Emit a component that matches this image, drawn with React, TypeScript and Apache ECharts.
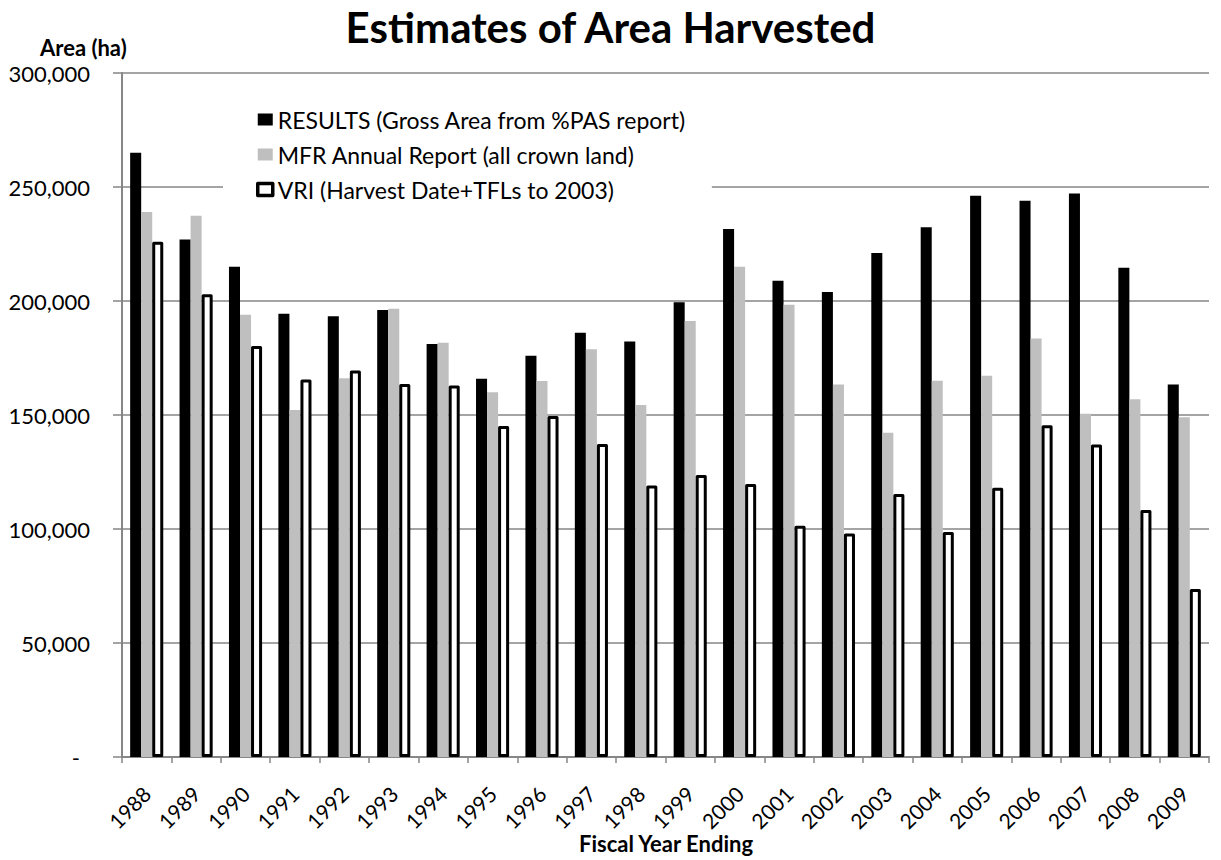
import React, { useEffect, useRef } from "react";
import * as echarts from "echarts";

const years = ["1988", "1989", "1990", "1991", "1992", "1993", "1994", "1995", "1996", "1997", "1998", "1999", "2000", "2001", "2002", "2003", "2004", "2005", "2006", "2007", "2008", "2009"];
const results = [265000, 227000, 215000, 194400, 193300, 196000, 181100, 165900, 176000, 186100, 182200, 199400, 231600, 208900, 204000, 221000, 232300, 246200, 244000, 247200, 214600, 163400];
const mfr = [239000, 237400, 194000, 152200, 166100, 196600, 181700, 160000, 164900, 178800, 154400, 191200, 215000, 198400, 163400, 142200, 165000, 167200, 183500, 150500, 156900, 149000];
const vri = [226000, 203000, 180300, 165600, 169500, 163600, 162900, 145200, 149600, 137300, 119100, 123700, 119700, 101400, 98000, 115400, 98700, 118100, 145500, 137100, 108300, 73700];
const seriesNames = ["RESULTS (Gross Area from %PAS report)", "MFR Annual Report (all crown land)", "VRI (Harvest Date+TFLs to 2003)"];
const xAxisTitle = "Fiscal Year Ending";

const FONT = "Lato, 'Open Sans', sans-serif";

export default function App() {
  const ref = useRef<HTMLDivElement>(null);
  useEffect(() => {
    if (!ref.current) return;
    const chart = echarts.init(ref.current, undefined, { renderer: "svg" });
    chart.setOption({
      animation: false,
      backgroundColor: "#fff",
      textStyle: { fontFamily: FONT, color: "#000" },
      title: [
        {
          text: "Estimates of Area Harvested",
          left: "center",
          top: 1,
          textStyle: { fontFamily: FONT, fontSize: 42, fontWeight: "bold", color: "#000" },
        },
        {
          text: "Area (ha)",
          left: 35,
          top: 31,
          textStyle: { fontFamily: FONT, fontSize: 22, fontWeight: "bold", color: "#000" },
        },
      ],
      graphic: [
        {
          type: "text",
          x: 666,
          y: 843,
          style: {
            text: xAxisTitle,
            align: "center",
            verticalAlign: "middle",
            fontFamily: FONT,
            fontSize: 22,
            fontWeight: "bold",
            fill: "#000",
          },
        },
      ],
      legend: {
        orient: "vertical",
        left: 223,
        top: 95,
        padding: [13, 26, 12, 33],
        backgroundColor: "#fff",
        icon: "rect",
        itemWidth: 15,
        itemHeight: 12,
        itemGap: 12,
        textStyle: { fontFamily: FONT, fontSize: 23, color: "#000" },
        data: [
          { name: seriesNames[0], itemStyle: { color: "#000", borderWidth: 0 } },
          { name: seriesNames[1], itemStyle: { color: "#bfbfbf", borderWidth: 0 } },
          { name: seriesNames[2], itemStyle: { color: "#fff", borderColor: "#000", borderWidth: 3.5 } },
        ],
      },
      grid: { left: 122, right: 12, top: 73, bottom: 103, containLabel: false, outerBoundsMode: "none" },
      xAxis: {
        type: "category",
        data: years,
        axisLine: { lineStyle: { color: "#868686", width: 2 } },
        axisTick: { show: true, alignWithLabel: false, length: 6, lineStyle: { color: "#868686", width: 1.5 } },
        axisLabel: { rotate: 45, fontSize: 21, fontFamily: FONT, color: "#000", margin: 33, interval: 0 },
        splitLine: { show: false },
      },
      yAxis: {
        type: "value",
        min: 0,
        max: 300000,
        interval: 50000,
        axisLine: { show: true, lineStyle: { color: "#868686", width: 2 } },
        axisTick: { show: true, length: 9, lineStyle: { color: "#868686", width: 1.5 } },
        splitLine: { show: true, lineStyle: { color: "#868686", width: 1.5 } },
        axisLabel: {
          fontSize: 22,
          fontFamily: FONT,
          color: "#000",
          margin: 32,
          formatter: (v: number) => (v === 0 ? "{dash|-}" : "{n|" + v.toLocaleString("en-US") + "}"),
          rich: {
            n: { fontSize: 22, fontFamily: FONT, color: "#000" },
            dash: { fontSize: 22, fontFamily: FONT, color: "#000", padding: [0, 10, 0, 0] },
          },
        },
      },
      series: [
        {
          name: seriesNames[0],
          type: "bar",
          data: results,
          barGap: "0%",
          barCategoryGap: "33%",
          itemStyle: { color: "#000" },
        },
        {
          name: seriesNames[1],
          type: "bar",
          data: mfr,
          barGap: "0%",
          barCategoryGap: "33%",
          itemStyle: { color: "#bfbfbf" },
        },
        {
          name: seriesNames[2],
          type: "bar",
          data: vri,
          barGap: "0%",
          barCategoryGap: "33%",
          itemStyle: { color: "#fff", borderColor: "#000", borderWidth: 3, borderJoin: "round" },
        },
      ],
    });
    return () => chart.dispose();
  }, []);
  return <div ref={ref} style={{ position: "fixed", left: 0, top: 0, width: 1221, height: 860 }} />;
}
